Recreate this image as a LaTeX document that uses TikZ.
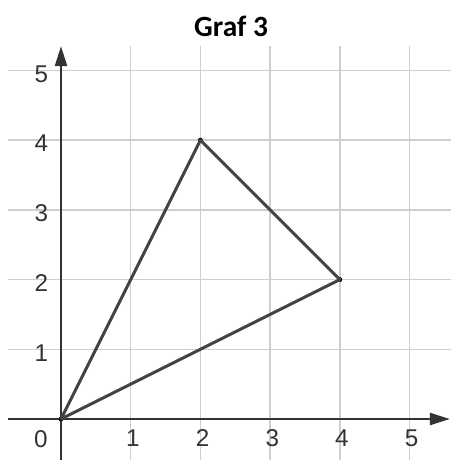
\documentclass[tikz,border=0pt]{standalone}
\usepackage{fontspec}
\newfontfamily\tickfont{Liberation Sans}
\newfontfamily\titlefont{Carlito}
\usetikzlibrary{arrows.meta}
\definecolor{gridGrey}{HTML}{CFCFCF}
\definecolor{axisDark}{HTML}{333333}
\definecolor{edgeDark}{HTML}{444444}

\begin{document}
\begin{tikzpicture}[
  tick/.style={font=\tickfont\fontsize{9.9}{11}\selectfont, text=axisDark, inner sep=0pt},
  gridline/.style={draw=gridGrey, line width=0.6pt},
  axis/.style={draw=axisDark, line width=1.2pt, -{Triangle[length=2.9mm,width=1.7mm]}},
  edge/.style={draw=edgeDark, line width=1.2pt, line join=round},
  vertex/.style={circle, fill=black, inner sep=0pt, minimum size=0.7mm},
]
\useasboundingbox (-0.875,-0.588) rectangle (5.595,6.01);
% grid
\draw[gridline] (-0.76,1) -- (5.6,1);
\draw[gridline] (-0.76,2) -- (5.6,2);
\draw[gridline] (-0.76,3) -- (5.6,3);
\draw[gridline] (-0.76,4) -- (5.6,4);
\draw[gridline] (-0.76,5) -- (5.6,5);
\draw[gridline] (1,-0.6) -- (1,5.35);
\draw[gridline] (2,-0.6) -- (2,5.35);
\draw[gridline] (3,-0.6) -- (3,5.35);
\draw[gridline] (4,-0.6) -- (4,5.35);
\draw[gridline] (5,-0.6) -- (5,5.35);
% axes
\coordinate (xstart) at (-0.76,0);
\coordinate (xend) at (5.58,0);
\coordinate (ystart) at (0,-0.6);
\coordinate (yend) at (0,5.35);
\draw[axis] (xstart) -- (xend);
\draw[axis] (ystart) -- (yend);
% ticks
\node[tick] (t0) at (-0.29,-0.29) {0};
\node[tick] (x1) at (1.03,-0.28) {1};
\node[tick] (x2) at (2.03,-0.28) {2};
\node[tick] (x3) at (3.03,-0.28) {3};
\node[tick] (x4) at (4.03,-0.28) {4};
\node[tick] (x5) at (5.03,-0.28) {5};
\node[tick] (y1) at (-0.28,0.95) {1};
\node[tick] (y2) at (-0.28,1.95) {2};
\node[tick] (y3) at (-0.28,2.95) {3};
\node[tick] (y4) at (-0.28,3.95) {4};
\node[tick] (y5) at (-0.28,4.95) {5};
% triangle
\node[vertex] (o) at (0,0) {};
\node[vertex] (p) at (2,4) {};
\node[vertex] (q) at (4,2) {};
\draw[edge] (o.center) -- (p.center) -- (q.center) -- cycle;
% title
\node[font=\titlefont\bfseries\fontsize{12}{14}\selectfont, anchor=base] (title) at (2.44,5.48) {Graf 3};
\end{tikzpicture}
\end{document}
